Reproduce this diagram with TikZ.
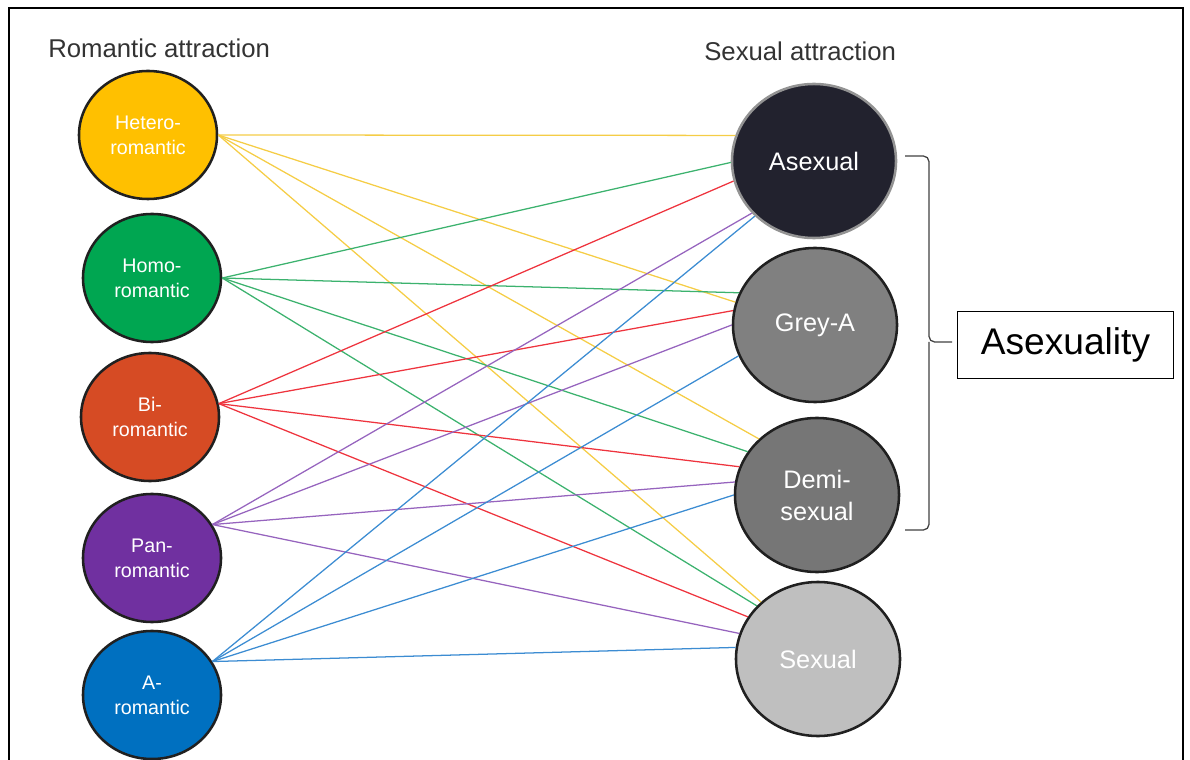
\documentclass[tikz,border=0pt]{standalone}
\usepackage{tikz}
\usetikzlibrary{
    shapes.geometric
}
\usepackage{fontspec}
\setmainfont{Liberation Sans}
\usepackage{xcolor}
\definecolor{heterofill}{RGB}{255,192,0}
\definecolor{homofill}{RGB}{0,166,81}
\definecolor{bifill}{RGB}{214,75,36}
\definecolor{panfill}{RGB}{112,48,160}
\definecolor{arofill}{RGB}{0,112,192}
\definecolor{asexfill}{RGB}{34,34,46}
\definecolor{greyfill}{RGB}{128,128,128}
\definecolor{demifill}{RGB}{118,118,118}
\definecolor{sexfill}{RGB}{191,191,191}
\definecolor{lnyellow}{RGB}{245,205,70}
\definecolor{lngreen}{RGB}{60,178,110}
\definecolor{lnred}{RGB}{238,52,62}
\definecolor{lnpurple}{RGB}{150,100,190}
\definecolor{lnblue}{RGB}{60,140,210}
\definecolor{outline}{RGB}{32,32,32}
\definecolor{headgray}{RGB}{51,51,51}
\tikzset{
    % Romantic circles
    romcircle/.style={
        ellipse,
        draw=outline,
        line width=1.8pt,
        minimum width=3.45cm,
        minimum height=3.2cm,
        align=center,
        text=white,
        font=\fontsize{14}{17.7}\selectfont
    },
    % Sexual circles
    sexcircle/.style={
        ellipse,
        draw=outline,
        line width=1.8pt,
        minimum width=4.1cm,
        minimum height=3.85cm,
        align=center,
        text=white,
        font=\fontsize{18}{22.7}\selectfont
    },
    % Headings
    heading/.style={
        font=\fontsize{18.3}{22}\selectfont,
        text=headgray,
        inner sep=0pt
    },
    % Connectors
    conn/.style={
        line width=0.9pt
    },
    braceline/.style={
        line width=0.9pt,
        draw=darkgray,
        rounded corners=4pt
    },
    labelbox/.style={
        rectangle,
        draw=black,
        line width=0.7pt,
        minimum width=5.42cm,
        minimum height=1.65cm,
        font=\fontsize{26.4}{30}\selectfont
    }
}
\begin{document}
\begin{tikzpicture}[x=0.025cm, y=-0.025cm]

    \useasboundingbox (0,0) rectangle (1190,760);

    % Frame
    \draw[line width=1.5pt] (9,760) -- (9,8) -- (1183,8) -- (1183,760);

    % Headings
    \node[heading, anchor=base west] (romhead) at (48,58) {Romantic attraction};
    \node[heading, anchor=base west] (sexhead) at (704,61) {Sexual attraction};

    % Romantic attraction
    \node[romcircle, fill=heterofill] (hetero) at (148,135) {Hetero-\\romantic};
    \node[romcircle, fill=homofill] (homo) at (152,278) {Homo-\\romantic};
    \node[romcircle, fill=bifill] (bi) at (150,417) {Bi-\\romantic};
    \node[romcircle, fill=panfill] (pan) at (152,558) {Pan-\\romantic};
    \node[romcircle, fill=arofill] (aro) at (152,695) {A-\\romantic};

    % Sexual attraction
    \node[sexcircle, fill=asexfill, draw=gray!85] (asexual) at (814,161) {Asexual};
    \node[sexcircle, fill=greyfill] (greya) at (815,325) {Grey-A};
    \node[sexcircle, fill=demifill] (demi) at (817,495) {Demi-\\sexual};
    \node[sexcircle, fill=sexfill] (sexual) at (818,659) {Sexual};

    % Hetero links
    \draw[conn, draw=lnyellow] (hetero.east) -- (asexual.162);
    \draw[conn, draw=lnyellow] (hetero.east) -- (greya.164);
    \draw[conn, draw=lnyellow] (hetero.east) -- (demi.136);
    \draw[conn, draw=lnyellow] (hetero.east) -- (sexual.135);

    % Homo links
    \draw[conn, draw=lngreen] (homo.east) -- (asexual.181);
    \draw[conn, draw=lngreen] (homo.east) -- (greya.157);
    \draw[conn, draw=lngreen] (homo.east) -- (demi.148);
    \draw[conn, draw=lngreen] (homo.east) -- (sexual.139);

    % Bi links
    \draw[conn, draw=lnred] (bi.11) -- (asexual.194);
    \draw[conn, draw=lnred] (bi.11) -- (greya.170);
    \draw[conn, draw=lnred] (bi.11) -- (demi.160);
    \draw[conn, draw=lnred] (bi.11) -- (sexual.149);

    % Pan links
    \draw[conn, draw=lnpurple] (pan.29) -- (asexual.220);
    \draw[conn, draw=lnpurple] (pan.29) -- (greya.180);
    \draw[conn, draw=lnpurple] (pan.29) -- (demi.171);
    \draw[conn, draw=lnpurple] (pan.29) -- (sexual.162);

    % A links
    \draw[conn, draw=lnblue] (aro.29) -- (asexual.223);
    \draw[conn, draw=lnblue] (aro.29) -- (greya.202);
    \draw[conn, draw=lnblue] (aro.29) -- (demi.180);
    \draw[conn, draw=lnblue] (aro.29) -- (sexual.172);

    % Brace and label
    \coordinate (bracetop) at (905,156);
    \coordinate (bracebot) at (905,530);
    \coordinate (bracetip) at (952,342);
    \draw[braceline] (bracetop) -- (929,156) -- (929,342) -- (bracetip);
    \draw[braceline] (bracebot) -- (929,530) -- (929,342);
    \node[labelbox] (asexuality) at (1065.5,345) {Asexuality};

\end{tikzpicture}
\end{document}
